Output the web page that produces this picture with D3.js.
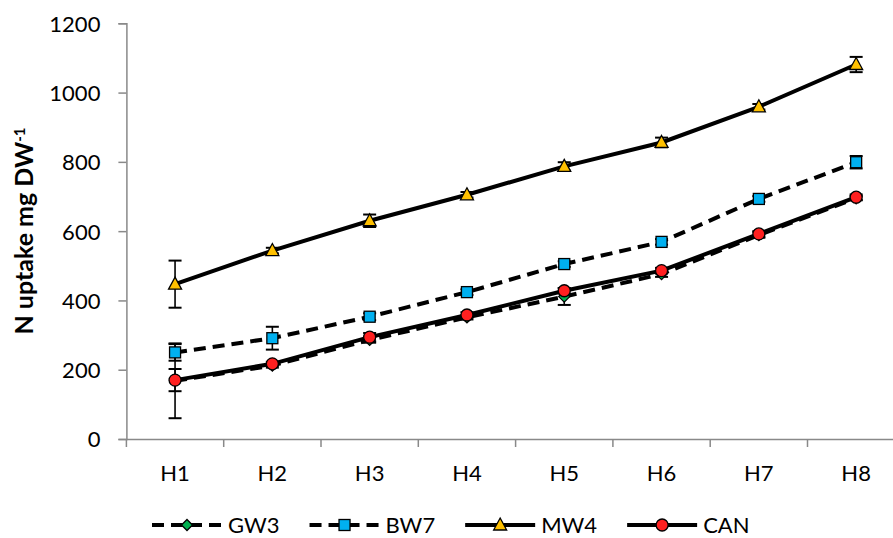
<!DOCTYPE html>
<html>
<head>
<meta charset="utf-8">
<script src="https://cdn.jsdelivr.net/npm/d3@7"></script>
<style>
  html, body { margin: 0; padding: 0; background: #fff; }
  svg { display: block; }
  text { font-family: Lato, "Open Sans", sans-serif; fill: #000; }
</style>
</head>
<body>
<svg id="chart" width="893" height="538"></svg>
<script>
// ---- data ----
const categories = ["H1", "H2", "H3", "H4", "H5", "H6", "H7", "H8"];
const seriesNames = ["GW3", "BW7", "MW4", "CAN"];
const gw3 = [168, 212, 286, 351, 411, 476, 589, 695];
const bw7 = [250, 291, 353, 424, 505, 569, 693, 799];
const mw4 = [447, 544, 630, 705, 787, 856, 959, 1081];
const can = [170, 217, 294, 358, 428, 486, 592, 698];
const gw3Err = [108, 6, 8, 6, 24, 8, 8, 6];
const bw7Err = [24, 33, 10, 8, 8, 8, 8, 18];
const mw4Err = [68, 8, 18, 8, 12, 14, 8, 22];
const canErr = [32, 6, 12, 8, 8, 8, 8, 8];
const yTicks = [0, 200, 400, 600, 800, 1000, 1200];
const yTitle = "N uptake mg DW";
const yTitleSup = "-1";

const series = [
  { name: seriesNames[0], values: gw3, err: gw3Err, dashed: true,  marker: "diamond",  fill: "#00B050" },
  { name: seriesNames[1], values: bw7, err: bw7Err, dashed: true,  marker: "square",   fill: "#00B0F0" },
  { name: seriesNames[2], values: mw4, err: mw4Err, dashed: false, marker: "triangle", fill: "#FFC000" },
  { name: seriesNames[3], values: can, err: canErr, dashed: false, marker: "circle",   fill: "#FF2020" }
];

// ---- layout ----
const svg = d3.select("#chart");
const x0 = 126.4, x1 = 904.8, yBottom = 439, yTop = 23.3;
const x = d3.scaleBand().domain(categories).range([x0, x1]).paddingInner(0).paddingOuter(0);
const y = d3.scaleLinear().domain([0, 1200]).range([yBottom, yTop]);
const cx = c => x(c) + x.bandwidth() / 2;
const axisColor = "#898989";
const fontSize = 22;

// y axis
const yAxis = svg.append("g").attr("transform", `translate(${x0},0)`)
  .call(d3.axisLeft(y).tickValues(yTicks).tickSize(8).tickPadding(18).tickFormat(d3.format("d")));
yAxis.select(".domain").attr("stroke", axisColor).attr("stroke-width", 1.5);
yAxis.selectAll(".tick line").attr("stroke", axisColor).attr("stroke-width", 1.5);
yAxis.selectAll(".tick text").style("font-size", fontSize + "px").style("font-family", "Lato").attr("fill", "#000")
  .attr("dy", "0.36em");

// x axis
const xAxis = svg.append("g").attr("transform", `translate(0,${yBottom})`)
  .call(d3.axisBottom(x).tickSize(0).tickPadding(26));
xAxis.select(".domain").attr("stroke", axisColor).attr("stroke-width", 1.5);
xAxis.selectAll(".tick text").style("font-size", fontSize + "px").style("font-family", "Lato").attr("fill", "#000")
  .attr("dy", "0.71em");
// category boundary ticks
const bounds = categories.map(c => x(c)).concat([x1]);
svg.append("g").selectAll("line").data(bounds).join("line")
  .attr("x1", d => d).attr("x2", d => d).attr("y1", yBottom).attr("y2", yBottom + 8)
  .attr("stroke", axisColor).attr("stroke-width", 1.5);

// y title
const yt = svg.append("text")
  .attr("transform", "translate(33,231) rotate(-90)")
  .attr("text-anchor", "middle")
  .style("font-size", "25px").style("font-weight", "bold");
yt.append("tspan").text(yTitle);
yt.append("tspan").text(yTitleSup).attr("dy", "-0.55em").style("font-size", "15px");

// ---- lines ----
const line = d3.line().x((d, i) => cx(categories[i])).y(d => y(d));
const gLines = svg.append("g");
series.forEach(s => {
  gLines.append("path").datum(s.values)
    .attr("d", line).attr("fill", "none").attr("stroke", "#000").attr("stroke-width", 4)
    .attr("stroke-dasharray", s.dashed ? "12,7" : null);
});

// ---- error bars ----
const gErr = svg.append("g");
series.forEach(s => {
  s.values.forEach((v, i) => {
    const px = cx(categories[i]);
    const e = s.err[i];
    gErr.append("line").attr("x1", px).attr("x2", px).attr("y1", y(v - e)).attr("y2", y(v + e))
      .attr("stroke", "#000").attr("stroke-width", 1.6);
    [v - e, v + e].forEach(w => {
      gErr.append("line").attr("x1", px - 6.5).attr("x2", px + 6.5).attr("y1", y(w)).attr("y2", y(w))
        .attr("stroke", "#000").attr("stroke-width", 2);
    });
  });
});

// ---- markers ----
function drawMarker(g, type, px, py, fill) {
  let m;
  if (type === "circle") {
    m = g.append("circle").attr("cx", px).attr("cy", py).attr("r", 6);
  } else if (type === "square") {
    m = g.append("rect").attr("x", px - 5.5).attr("y", py - 5.5).attr("width", 11).attr("height", 11);
  } else if (type === "triangle") {
    m = g.append("path").attr("d", `M${px},${py - 7}L${px + 6.5},${py + 5}L${px - 6.5},${py + 5}Z`);
  } else {
    m = g.append("path").attr("d", `M${px},${py - 5.5}L${px + 5.5},${py}L${px},${py + 5.5}L${px - 5.5},${py}Z`);
  }
  m.attr("fill", fill).attr("stroke", "#000").attr("stroke-width", 1.3);
}
const gMarkers = svg.append("g");
series.forEach(s => {
  s.values.forEach((v, i) => drawMarker(gMarkers, s.marker, cx(categories[i]), y(v), s.fill));
});

// ---- legend ----
const legend = svg.append("g");
const legY = 525;
let lx = 152;
series.forEach(s => {
  legend.append("line").attr("x1", lx).attr("x2", lx + 70).attr("y1", legY).attr("y2", legY)
    .attr("stroke", "#000").attr("stroke-width", 4)
    .attr("stroke-dasharray", s.dashed ? "12,7" : null);
  drawMarker(legend, s.marker, lx + 35, legY, s.fill);
  const t = legend.append("text").attr("x", lx + 76).attr("y", legY).attr("dy", "0.36em")
    .style("font-size", fontSize + "px").text(s.name);
  lx = lx + 76 + t.node().getComputedTextLength() + 30;
});
</script>
</body>
</html>
